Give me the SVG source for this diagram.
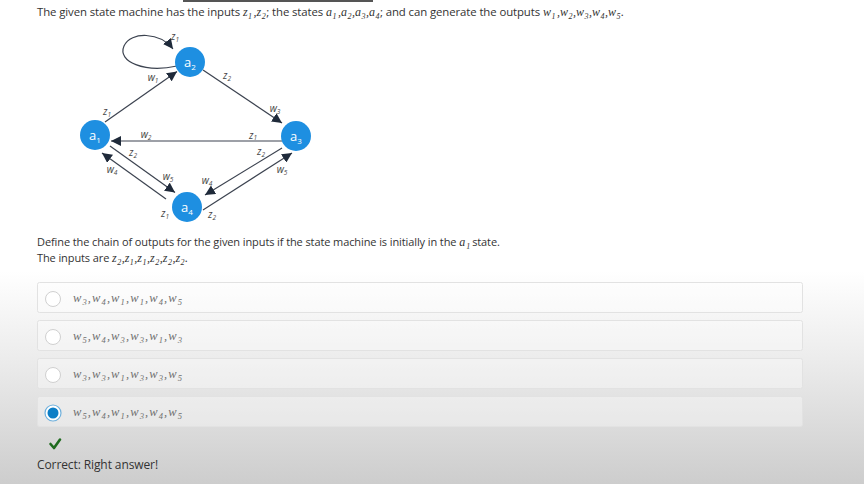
<svg xmlns="http://www.w3.org/2000/svg" width="864" height="484" viewBox="0 0 864 484">
<defs>
<linearGradient id="bg" x1="0" y1="0" x2="0" y2="484" gradientUnits="userSpaceOnUse">
<stop offset="0" stop-color="#ffffff"/>
<stop offset="0.56" stop-color="#ffffff"/>
<stop offset="0.75" stop-color="#ebebeb"/>
<stop offset="1" stop-color="#cdcdcd"/>
</linearGradient>
<marker id="arr" viewBox="0 0 10 10" refX="10" refY="5" markerWidth="10" markerHeight="10" markerUnits="userSpaceOnUse" orient="auto">
<path d="M0,0 L10,5 L0,10 z" fill="#1f2a3a"/>
</marker>
<style>
.t{font-family:"Open Sans","Liberation Sans",sans-serif;font-size:11px;letter-spacing:-0.1px;fill:#333}
.m{font-family:"Liberation Serif",serif;font-style:italic;font-size:12px;letter-spacing:0}
.s{font-family:"Liberation Serif",serif;font-style:italic;font-size:8px;letter-spacing:0}
.opt{font-family:"Liberation Serif",serif;font-style:italic;font-size:12.5px;fill:#707070}
.os{font-size:8.5px}
.node circle{fill:#1e8fe1}
.node text{font-family:"Open Sans","Liberation Sans",sans-serif;font-size:13px;fill:#fff;text-anchor:middle}
.edge{stroke:#3c4350;stroke-width:1.2;fill:none;marker-end:url(#arr)}
.lbl{font-family:"Open Sans","Liberation Sans",sans-serif;font-style:italic;font-size:10px;fill:#454545;text-anchor:middle}
.ls{font-size:6.5px}
.box{fill:#ffffff;fill-opacity:0.35;stroke:#e2e2e2;stroke-width:1}
.radio{fill:#ffffff;stroke:#d0d0d0;stroke-width:1}
</style>
</defs>
<rect width="864" height="484" fill="url(#bg)"/>
<rect x="183" y="0" width="190" height="2" fill="#555"/>

<text class="t" x="37" y="16" style="font-size:11.4px">The given state machine has the inputs <tspan class="m">z</tspan><tspan class="s" dx="0.5" dy="2.5">1</tspan><tspan class="m" dx="1.5" dy="-2.5">,z</tspan><tspan class="s" dx="0.5" dy="2.5">2</tspan><tspan dx="0.5" dy="-2.5">; the states </tspan><tspan class="m">a</tspan><tspan class="s" dx="0.5" dy="2.5">1</tspan><tspan class="m" dx="1.5" dy="-2.5">,a</tspan><tspan class="s" dx="0.5" dy="2.5">2</tspan><tspan class="m" dx="0.5" dy="-2.5">,a</tspan><tspan class="s" dx="0.5" dy="2.5">3</tspan><tspan class="m" dx="0.5" dy="-2.5">,a</tspan><tspan class="s" dx="0.5" dy="2.5">4</tspan><tspan dx="0.5" dy="-2.5">; and can generate the outputs </tspan><tspan class="m">w</tspan><tspan class="s" dx="0.5" dy="2.5">1</tspan><tspan class="m" dx="1.5" dy="-2.5">,w</tspan><tspan class="s" dx="0.5" dy="2.5">2</tspan><tspan class="m" dx="0.5" dy="-2.5">,w</tspan><tspan class="s" dx="0.5" dy="2.5">3</tspan><tspan class="m" dx="0.5" dy="-2.5">,w</tspan><tspan class="s" dx="0.5" dy="2.5">4</tspan><tspan class="m" dx="0.5" dy="-2.5">,w</tspan><tspan class="s" dx="0.5" dy="2.5">5</tspan><tspan class="m" dx="0.5" dy="-2.5">.</tspan></text>

<g id="connectors">
<path class="edge" d="M177,66 C145,73 117,62 124,46 C131,31 160,32 173,49"/>
<line class="edge" x1="105" y1="122" x2="177" y2="71.5"/>
<line class="edge" x1="203" y1="70" x2="282" y2="123"/>
<line class="edge" x1="282" y1="141" x2="111" y2="141"/>
<line class="edge" x1="110" y1="146" x2="175" y2="192.5"/>
<line class="edge" x1="166" y1="199" x2="102" y2="153"/>
<line class="edge" x1="282" y1="148" x2="205" y2="195"/>
<line class="edge" x1="203" y1="210" x2="292" y2="153"/>
<g id="edge-labels">
<text class="lbl" x="175" y="40">z<tspan class="ls" dy="2">1</tspan></text>
<text class="lbl" x="153" y="81">w<tspan class="ls" dy="2">1</tspan></text>
<text class="lbl" x="107" y="115">z<tspan class="ls" dy="2">1</tspan></text>
<text class="lbl" x="227" y="79">z<tspan class="ls" dy="2">2</tspan></text>
<text class="lbl" x="275" y="112">w<tspan class="ls" dy="2">3</tspan></text>
<text class="lbl" x="146" y="138">w<tspan class="ls" dy="2">2</tspan></text>
<text class="lbl" x="253" y="138.5">z<tspan class="ls" dy="1.5">1</tspan></text>
<text class="lbl" x="133" y="156">z<tspan class="ls" dy="2">2</tspan></text>
<text class="lbl" x="112" y="173">w<tspan class="ls" dy="2">4</tspan></text>
<text class="lbl" x="168" y="180">w<tspan class="ls" dy="2">5</tspan></text>
<text class="lbl" x="207" y="184">w<tspan class="ls" dy="2">4</tspan></text>
<text class="lbl" x="165" y="217">z<tspan class="ls" dy="2">1</tspan></text>
<text class="lbl" x="212" y="218">z<tspan class="ls" dy="2">2</tspan></text>
<text class="lbl" x="261" y="155">z<tspan class="ls" dy="2">2</tspan></text>
<text class="lbl" x="282" y="173">w<tspan class="ls" dy="2">5</tspan></text>
</g>
</g>

<g id="a1" class="node"><circle cx="95" cy="135" r="15"/><text x="95" y="139.5">a<tspan font-size="8" dy="3">1</tspan></text></g>
<g id="a2" class="node"><circle cx="190" cy="62" r="15"/><text x="190" y="66.5">a<tspan font-size="8" dy="3">2</tspan></text></g>
<g id="a3" class="node"><circle cx="296" cy="136" r="15"/><text x="296" y="140.5">a<tspan font-size="8" dy="3">3</tspan></text></g>
<g id="a4" class="node"><circle cx="187" cy="207" r="15"/><text x="187" y="211.5">a<tspan font-size="8" dy="3">4</tspan></text></g>

<text class="t" x="37" y="246">Define the chain of outputs for the given inputs if the state machine is initially in the <tspan class="m">a</tspan><tspan class="s" dx="1" dy="2.5">1</tspan><tspan dx="2" dy="-2.5">state.</tspan></text>
<text class="t" x="37" y="262">The inputs are <tspan class="m">z</tspan><tspan class="s" dx="0.5" dy="2.5">2</tspan><tspan class="m" dx="0.5" dy="-2.5">,z</tspan><tspan class="s" dx="0.5" dy="2.5">1</tspan><tspan class="m" dx="0.5" dy="-2.5">,z</tspan><tspan class="s" dx="0.5" dy="2.5">1</tspan><tspan class="m" dx="0.5" dy="-2.5">,z</tspan><tspan class="s" dx="0.5" dy="2.5">2</tspan><tspan class="m" dx="0.5" dy="-2.5">,z</tspan><tspan class="s" dx="0.5" dy="2.5">2</tspan><tspan class="m" dx="0.5" dy="-2.5">,z</tspan><tspan class="s" dx="0.5" dy="2.5">2</tspan><tspan class="m" dx="0.5" dy="-2.5">.</tspan></text>

<g id="option1">
<rect class="box" x="37.5" y="282.5" width="765" height="30" rx="2"/>
<circle class="radio" cx="53" cy="299" r="7.5"/>
<text class="opt" x="73" y="302" textLength="109" lengthAdjust="spacing">w<tspan class="os" dy="2.5">3</tspan><tspan dy="-2.5">,w</tspan><tspan class="os" dy="2.5">4</tspan><tspan dy="-2.5">,w</tspan><tspan class="os" dy="2.5">1</tspan><tspan dy="-2.5">,w</tspan><tspan class="os" dy="2.5">1</tspan><tspan dy="-2.5">,w</tspan><tspan class="os" dy="2.5">4</tspan><tspan dy="-2.5">,w</tspan><tspan class="os" dy="2.5">5</tspan></text>
</g>
<g id="option2">
<rect class="box" x="37.5" y="320.5" width="765" height="30" rx="2"/>
<circle class="radio" cx="53" cy="337" r="7.5"/>
<text class="opt" x="73" y="340" textLength="109" lengthAdjust="spacing">w<tspan class="os" dy="2.5">5</tspan><tspan dy="-2.5">,w</tspan><tspan class="os" dy="2.5">4</tspan><tspan dy="-2.5">,w</tspan><tspan class="os" dy="2.5">3</tspan><tspan dy="-2.5">,w</tspan><tspan class="os" dy="2.5">3</tspan><tspan dy="-2.5">,w</tspan><tspan class="os" dy="2.5">1</tspan><tspan dy="-2.5">,w</tspan><tspan class="os" dy="2.5">3</tspan></text>
</g>
<g id="option3">
<rect class="box" x="37.5" y="358.5" width="765" height="30" rx="2"/>
<circle class="radio" cx="53" cy="375" r="7.5"/>
<text class="opt" x="73" y="378" textLength="109" lengthAdjust="spacing">w<tspan class="os" dy="2.5">3</tspan><tspan dy="-2.5">,w</tspan><tspan class="os" dy="2.5">3</tspan><tspan dy="-2.5">,w</tspan><tspan class="os" dy="2.5">1</tspan><tspan dy="-2.5">,w</tspan><tspan class="os" dy="2.5">3</tspan><tspan dy="-2.5">,w</tspan><tspan class="os" dy="2.5">3</tspan><tspan dy="-2.5">,w</tspan><tspan class="os" dy="2.5">5</tspan></text>
</g>
<g id="option4">
<rect class="box" x="37.5" y="396.5" width="765" height="30" rx="2"/>
<circle cx="53" cy="413" r="8" fill="#ffffff" stroke="#6fb0dc" stroke-width="1.2"/>
<circle cx="53" cy="413" r="5.5" fill="#0b7ec6"/>
<text class="opt" x="73" y="416" textLength="109" lengthAdjust="spacing">w<tspan class="os" dy="2.5">5</tspan><tspan dy="-2.5">,w</tspan><tspan class="os" dy="2.5">4</tspan><tspan dy="-2.5">,w</tspan><tspan class="os" dy="2.5">1</tspan><tspan dy="-2.5">,w</tspan><tspan class="os" dy="2.5">3</tspan><tspan dy="-2.5">,w</tspan><tspan class="os" dy="2.5">4</tspan><tspan dy="-2.5">,w</tspan><tspan class="os" dy="2.5">5</tspan></text>
</g>

<path d="M50.5,444 L54,448 L60,439.5" fill="none" stroke="#1f6b1f" stroke-width="2.6" stroke-linecap="round" stroke-linejoin="round"/>
<text class="t" x="37" y="469" style="font-size:12px">Correct:  Right answer!</text>
</svg>
